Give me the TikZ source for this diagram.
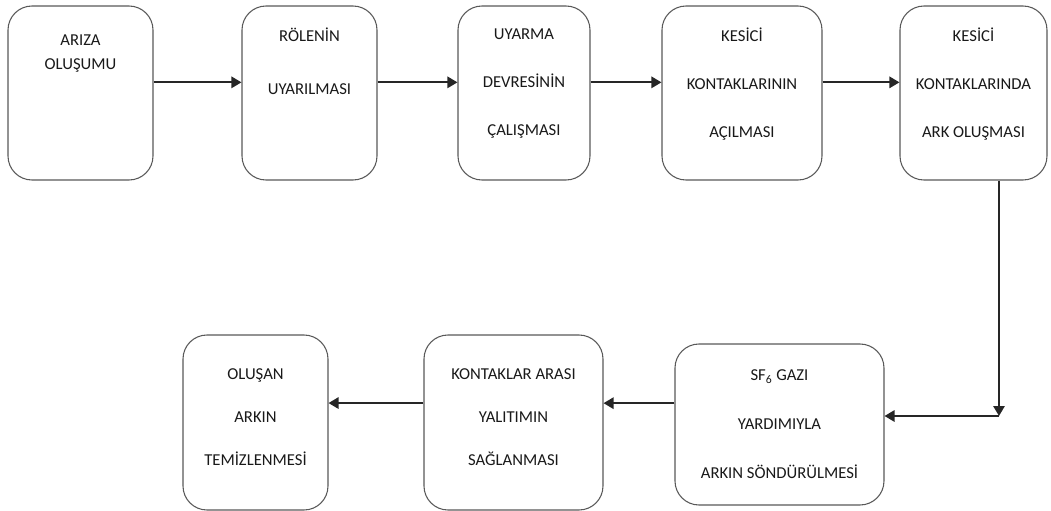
\documentclass[tikz,border=0pt]{standalone}
\usepackage{fontspec}
\setmainfont{Carlito}
\usetikzlibrary{arrows.meta,positioning}
\tikzset{block/.style = {draw=black!65, fill=white, line width=0.8pt, rectangle, rounded corners=18pt, minimum height=130.5pt},
         txt/.style = {align=center, text=black!90, font=\fontsize{12.5}{#1}\selectfont},
         arr/.style = {-{Triangle[length=7.5pt,width=8.5pt]}, line width=1.4pt, black!85}}

\begin{document}
\begin{tikzpicture}[x=0.75pt,y=-0.75pt]
    \useasboundingbox (0,0) rectangle (1051,511);
    % top row
    \node[block, minimum width=108.75pt](ariza)at(80.5,93){};
    \node[block, minimum width=101.25pt](role)at(309.5,93){};
    \node[block, minimum width=99pt](uyarma)at(524,93){};
    \node[block, minimum width=120pt](acilma)at(742,93){};
    \node[block, minimum width=110.25pt](ark)at(973.5,93){};
    \node[txt=18pt](tariza)at([yshift=29.5pt]ariza.center){ARIZA\\OLUŞUMU};
    \node[txt=39.75pt](trole)at([yshift=23.6pt]role.center){RÖLENİN\\UYARILMASI};
    \node[txt=36pt](tuyarma)at([yshift=6.75pt]uyarma.center){UYARMA\\DEVRESİNİN\\ÇALIŞMASI};
    \node[txt=36pt](tacilma)at([yshift=6.75pt]acilma.center){KESİCİ\\KONTAKLARININ\\AÇILMASI};
    \node[txt=36pt](tark)at([yshift=6.75pt]ark.center){KESİCİ\\KONTAKLARINDA\\ARK OLUŞMASI};
    % bottom row
    \node[block, minimum width=108.75pt, minimum height=131.25pt](temiz)at(255.5,422.5){};
    \node[block, minimum width=134.25pt, minimum height=131.25pt](yalitim)at(513.5,422.5){};
    \node[block, minimum width=156.75pt, minimum height=120.75pt](sonme)at(779.5,424.5){};
    \node[txt=32pt](ttemiz)at([yshift=4pt]temiz.center){OLUŞAN\\ARKIN\\TEMİZLENMESİ};
    \node[txt=32pt](tyalitim)at([yshift=4pt]yalitim.center){KONTAKLAR ARASI\\YALITIMIN\\SAĞLANMASI};
    \node[txt=36.75pt](tsonme)at(sonme.center){SF\textsubscript{6} GAZI\\YARDIMIYLA\\ARKIN SÖNDÜRÜLMESİ};
    % connectors
    \draw[arr]([yshift=8pt]ariza.east)--([yshift=8pt]role.west);
    \draw[arr]([yshift=8pt]role.east)--([yshift=8pt]uyarma.west);
    \draw[arr]([yshift=8pt]uyarma.east)--([yshift=8pt]acilma.west);
    \draw[arr]([yshift=8pt]acilma.east)--([yshift=8pt]ark.west);
    \coordinate(kose)at(999,416);
    \draw[arr](ark.south -| kose)--(kose);
    \draw[arr](kose)--(sonme.east |- kose);
    \draw[arr]([yshift=16pt]sonme.west)--([yshift=16pt]sonme.west -| yalitim.east);
    \draw[arr]([yshift=14.6pt]yalitim.west)--([yshift=14.6pt]temiz.east);
\end{tikzpicture}
\end{document}
